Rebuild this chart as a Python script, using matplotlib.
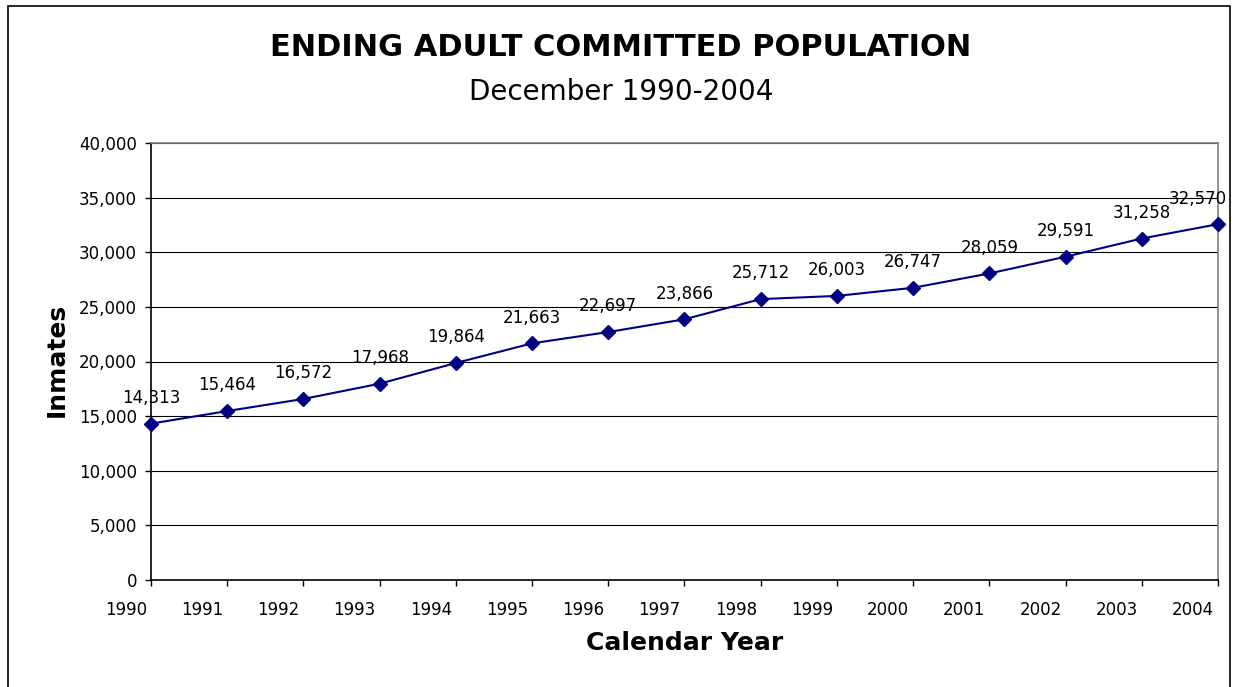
import matplotlib
matplotlib.use("Agg")
import matplotlib.pyplot as plt
import matplotlib.transforms as mtransforms
from matplotlib.patches import Rectangle
from matplotlib.ticker import FuncFormatter

years = list(range(1990, 2005))
inmates = [14313, 15464, 16572, 17968, 19864, 21663, 22697, 23866,
           25712, 26003, 26747, 28059, 29591, 31258, 32570]
y_ticks = list(range(0, 40001, 5000))

title = "ENDING ADULT COMMITTED POPULATION"
subtitle = "December 1990-2004"
x_label = "Calendar Year"
y_label = "Inmates"

W, H = 1235, 687
fig = plt.figure(figsize=(W / 100, H / 100), dpi=100)
plt.rcParams["font.family"] = ["DejaVu Sans"]

# outer chart border (runs past the bottom edge of the figure)
fig.patches.append(Rectangle((8 / W, -0.05), (1230 - 8) / W, 1.05 - 6 / H,
                             transform=fig.transFigure, fill=False,
                             edgecolor="black", linewidth=1.2, clip_on=True))

ax = fig.add_axes([151 / W, 1 - 580 / H, (1218 - 151) / W, (580 - 143) / H])
ax.set_xlim(1990, 2004)
ax.set_ylim(0, 40000)

navy = "#000080"
ax.plot(years, inmates, color=navy, linewidth=1.5, marker="D",
        markersize=7.5, markerfacecolor=navy, markeredgecolor=navy,
        zorder=3, clip_on=False)

for i, (x, v) in enumerate(zip(years, inmates)):
    dx = -20 if i == len(years) - 1 else 0
    ax.annotate(f"{v:,}", (x, v), xytext=(dx * 0.72, 12),
                textcoords="offset points", ha="center", va="bottom",
                fontsize=12, color="black", zorder=4)

ax.set_yticks(y_ticks)
ax.yaxis.set_major_formatter(FuncFormatter(lambda v, p: f"{int(v):,}"))
ax.set_xticks(years)
ax.set_xticklabels([str(y) for y in years])
ax.grid(axis="y", color="black", linewidth=0.8)
ax.set_axisbelow(True)

ax.tick_params(axis="both", direction="out", length=4, width=1, colors="black",
               labelsize=12)
ax.tick_params(axis="x", pad=11)
ax.tick_params(axis="y", pad=6)

shift = mtransforms.ScaledTranslation(-25 / 100, 0, fig.dpi_scale_trans)
for lbl in ax.get_xticklabels():
    lbl.set_transform(lbl.get_transform() + shift)

for side in ("left", "bottom"):
    ax.spines[side].set_color("black")
    ax.spines[side].set_linewidth(1.2)
for side in ("top", "right"):
    ax.spines[side].set_color("#808080")
    ax.spines[side].set_linewidth(1.2)

ax.set_xlabel(x_label, fontsize=18, fontweight="bold")
ax.set_ylabel(y_label, fontsize=18, fontweight="bold")
ax.xaxis.set_label_coords((685 - 151) / (1218 - 151), -(631 - 580) / (580 - 143))
ax.yaxis.set_label_coords(-(151 - 69) / (1218 - 151), (580 - 360) / (580 - 143))

fig.text(621 / W, 1 - 48 / H, title, ha="center", va="center",
         fontsize=22, fontweight="bold")
fig.text(621 / W, 1 - 92 / H, subtitle, ha="center", va="center",
         fontsize=20)

fig.savefig("out.png", dpi=100)
